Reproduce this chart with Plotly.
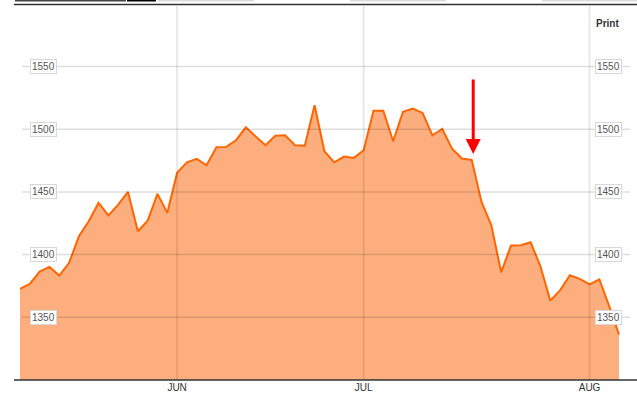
import plotly.graph_objects as go

# closing values, one per session (mid May -> early Aug)
prices = [1372.6, 1376.6, 1386.4, 1390.2, 1383.3, 1393.4, 1414.6, 1426.6, 1441.2, 1431.3,
          1439.9, 1450.0, 1418.6, 1427.1, 1448.4, 1433.3, 1465.2, 1473.6, 1476.3, 1471.2,
          1485.6, 1485.9, 1491.2, 1501.5, 1494.1, 1487.2, 1494.7, 1495.1, 1487.2, 1486.9,
          1519.1, 1482.4, 1473.6, 1478.2, 1477.1, 1483.2, 1514.8, 1514.8, 1490.4, 1513.8,
          1516.4, 1513.0, 1495.1, 1500.2, 1484.5, 1476.6, 1475.5, 1442.0, 1423.4, 1385.9,
          1407.2, 1407.4, 1409.8, 1390.7, 1363.3, 1371.5, 1383.5, 1380.6, 1376.3, 1380.3,
          1359.0, 1336.2]
days = list(range(len(prices)))

month_labels = ["JUN", "JUL", "AUG"]
month_starts = [16, 35, 58]   # index of first session of each month
y_ticks = [1350, 1400, 1450, 1500, 1550]
arrow_day = 46                 # where the red arrow points

W, H = 637, 400
FONT = "Arial, Liberation Sans, sans-serif"

fig = go.Figure()
fig.add_trace(go.Scatter(
    x=days, y=prices, mode="lines",
    line=dict(color="#ff6600", width=2),
    fill="tozeroy", fillcolor="#fdae7e",
    hoverinfo="skip", showlegend=False,
))

shapes = []
# horizontal grid, drawn over the area like the original
for v in y_ticks:
    shapes.append(dict(type="line", xref="paper", yref="y", x0=22 / W, x1=630 / W, y0=v, y1=v,
                       line=dict(color="rgba(0,0,0,0.13)", width=1.5), layer="above"))
# month grid
for d in month_starts:
    shapes.append(dict(type="line", xref="x", yref="paper", x0=d, x1=d, y0=0.05, y1=1 - 6 / H,
                       line=dict(color="rgba(0,0,0,0.09)", width=2), layer="above"))
# top and bottom rules
shapes.append(dict(type="line", xref="paper", yref="paper", x0=14 / W, x1=1, y0=1 - 4.5 / H, y1=1 - 4.5 / H,
                   line=dict(color="#333333", width=1.5)))
shapes.append(dict(type="line", xref="paper", yref="paper", x0=14 / W, x1=1, y0=0.05, y1=0.05,
                   line=dict(color="#333333", width=1.5), layer="above"))
# cut-off tab strips at the very top
for x0, x1, c in [(15, 126, "#444444"), (127, 156, "#000000"), (158, 254, "#dddddd"),
                  (350, 446, "#dddddd"), (542, 637, "#dddddd")]:
    shapes.append(dict(type="rect", xref="paper", yref="paper", x0=x0 / W, x1=x1 / W,
                       y0=1 - 1.5 / H, y1=1, line=dict(width=0), fillcolor=c))

annotations = []
for v in y_ticks:
    for px in (43.5, 608):
        annotations.append(dict(
            x=px / W, y=v, xref="paper", yref="y", text=str(v), showarrow=False,
            font=dict(family=FONT, size=10, color="#555555"),
            bgcolor="white", bordercolor="#d8d8d8", borderwidth=1, borderpad=1,
            xanchor="center", yanchor="middle",
        ))
annotations.append(dict(x=607 / W, y=1 - 23 / H, xref="paper", yref="paper", text="<b>Print</b>",
                        showarrow=False, font=dict(family=FONT, size=10, color="#333333"),
                        xanchor="center", yanchor="middle"))
annotations.append(dict(
    x=arrow_day, y=prices[arrow_day], xref="x", yref="y", text="",
    showarrow=True, ax=0, ay=-82, standoff=6, xshift=1.5,
    arrowhead=2, arrowsize=1, arrowwidth=3, arrowcolor="#ff0000",
))

fig.update_layout(
    width=W, height=H, autosize=False,
    margin=dict(l=0, r=0, t=0, b=0),
    paper_bgcolor="white", plot_bgcolor="white",
    shapes=shapes, annotations=annotations,
    xaxis=dict(
        domain=[0, 1], range=[-2.0367, 62.833],
        tickvals=month_starts, ticktext=month_labels, ticks="",
        tickfont=dict(family=FONT, size=10, color="#333333"),
        showgrid=False, zeroline=False, showline=False, fixedrange=True,
    ),
    yaxis=dict(
        domain=[0.05, 1 - 5 / H], range=[1300, 1599.04],
        showticklabels=False, showgrid=False, zeroline=False, showline=False, fixedrange=True,
    ),
)

# the page's default 8px body margin would shift the whole chart
fig.write_html("out.html", config={"displayModeBar": False},
               post_script="document.body.style.margin='0';document.body.style.overflow='hidden';")
